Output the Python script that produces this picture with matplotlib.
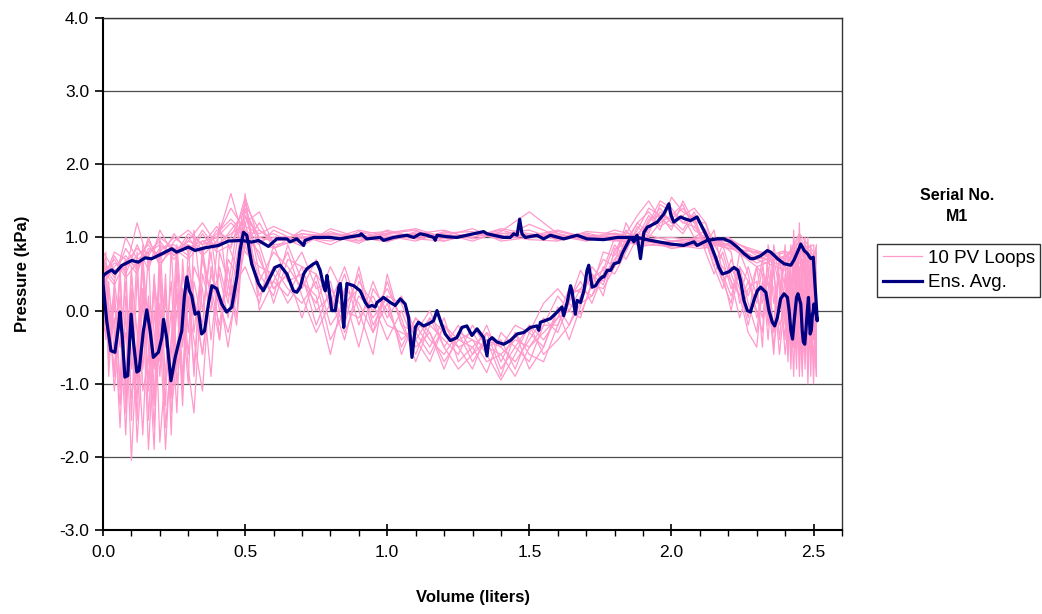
import matplotlib
matplotlib.use("Agg")
import matplotlib.pyplot as plt
from matplotlib.ticker import MultipleLocator, FormatStrFormatter

plt.rcParams['font.family'] = ['Liberation Sans', 'DejaVu Sans']
plt.rcParams['axes.unicode_minus'] = False

# shared volume grids for the 10 pink loops (filling branch, then emptying branch)
upper_x = [0.0, 0.04, 0.08, 0.12, 0.16, 0.2, 0.25, 0.3, 0.35, 0.4, 0.45, 0.5, 0.55, 0.6,
           0.7, 0.8, 0.9, 1.0, 1.1, 1.2, 1.3, 1.4, 1.5, 1.6, 1.7, 1.8, 1.9, 2.0, 2.1, 2.2,
           2.3, 2.4, 2.45, 2.5]
lower_x = [2.51, 2.5, 2.49, 2.48, 2.47, 2.46, 2.45, 2.44, 2.43, 2.42, 2.41, 2.4,
           2.38, 2.36, 2.34, 2.32, 2.3,
           2.27, 2.24, 2.21, 2.18, 2.15, 2.12,
           2.08, 2.04, 2.0, 1.96, 1.92, 1.88, 1.84, 1.8, 1.76, 1.72, 1.68, 1.64, 1.6,
           1.55, 1.5, 1.45, 1.4, 1.35, 1.3, 1.25, 1.2, 1.15, 1.1, 1.05, 1.0, 0.95, 0.9,
           0.85, 0.8, 0.75, 0.7, 0.65, 0.6, 0.55, 0.5,
           0.47, 0.44, 0.41, 0.38, 0.35, 0.32,
           0.3, 0.28, 0.26, 0.24, 0.22, 0.2, 0.18, 0.16, 0.14, 0.12, 0.1, 0.08, 0.06, 0.04, 0.02,
           0.01, 0.0]

loop1_up = [0.70, 0.45, 0.85, 0.60, 0.95, 0.70, 1.05, 0.80, 1.10, 0.85, 1.00, 1.45, 1.10, 0.95, 1.05, 0.98, 1.10, 1.02, 0.95, 1.08, 1.00, 1.12, 1.05, 0.98, 1.04, 0.96, 0.90, 0.88, 0.95, 0.85, 0.80, 0.70, 1.00, 0.75]
loop2_up = [0.30, 0.75, 0.50, 0.90, 0.55, 1.10, 0.75, 0.95, 0.85, 1.05, 1.25, 1.05, 0.90, 1.10, 0.92, 1.08, 0.96, 1.05, 1.10, 0.95, 1.05, 0.98, 1.18, 1.02, 0.95, 1.06, 0.98, 0.85, 0.92, 0.95, 0.70, 0.82, 0.65, 0.60]
loop3_up = [0.60, 0.40, 1.00, 0.70, 0.80, 0.95, 0.70, 1.00, 0.75, 0.95, 1.60, 0.90, 1.20, 0.85, 1.10, 1.02, 0.92, 1.10, 1.00, 1.05, 0.95, 1.08, 1.35, 1.05, 0.98, 1.02, 0.92, 0.95, 1.00, 0.90, 0.60, 0.75, 0.85, 0.50]
loop4_up = [0.45, 0.65, 0.55, 1.20, 0.65, 0.85, 0.90, 0.75, 1.05, 0.80, 0.90, 1.30, 1.00, 1.05, 0.88, 1.12, 1.00, 0.94, 1.08, 1.02, 1.12, 0.95, 1.00, 1.08, 1.00, 0.95, 1.02, 0.85, 0.90, 1.00, 0.75, 0.60, 0.95, 0.65]
loop5_up = [0.55, 0.35, 0.70, 0.50, 1.00, 0.60, 0.95, 1.10, 0.90, 1.15, 0.85, 1.55, 0.95, 0.85, 1.00, 0.95, 1.05, 1.08, 0.98, 0.95, 1.06, 1.03, 0.97, 0.95, 1.08, 1.05, 0.95, 0.92, 0.88, 0.95, 0.82, 0.70, 1.05, 0.80]
loop6_up = [0.80, 0.55, 0.65, 0.85, 0.70, 0.80, 1.00, 0.85, 0.95, 1.00, 1.40, 1.10, 0.95, 1.00, 1.02, 0.90, 1.08, 0.98, 1.05, 1.10, 0.98, 1.05, 1.10, 0.96, 1.02, 0.98, 0.88, 0.95, 0.98, 0.88, 0.65, 0.80, 0.70, 0.55]
loop7_up = [0.35, 0.60, 0.75, 0.55, 0.85, 0.75, 0.80, 0.95, 1.20, 0.90, 1.05, 1.20, 1.35, 0.90, 0.95, 1.05, 1.00, 1.06, 1.12, 1.00, 1.00, 1.10, 1.00, 1.05, 0.96, 1.10, 1.00, 0.90, 0.85, 0.92, 0.70, 0.55, 0.80, 0.90]
loop8_up = [0.65, 0.50, 0.60, 0.75, 0.90, 0.65, 0.85, 0.90, 0.80, 1.10, 0.95, 1.15, 1.05, 1.15, 0.98, 1.00, 0.95, 1.04, 0.98, 1.06, 1.08, 0.98, 1.05, 1.00, 1.06, 0.98, 0.95, 0.88, 1.00, 0.85, 0.80, 0.65, 0.75, 0.45]
loop9_up = [0.50, 0.70, 0.45, 0.65, 0.75, 1.00, 0.85, 0.70, 0.95, 0.85, 1.10, 1.35, 1.00, 0.95, 1.05, 1.02, 1.00, 0.95, 1.04, 1.00, 1.05, 1.00, 1.02, 1.10, 1.00, 1.00, 1.05, 0.95, 0.92, 0.98, 0.78, 0.72, 0.95, 0.70]
loop10_up = [0.40, 0.80, 0.70, 0.60, 0.80, 0.90, 0.75, 1.05, 0.90, 1.00, 1.20, 1.00, 1.10, 0.95, 1.00, 1.05, 1.03, 1.00, 1.06, 0.98, 1.04, 1.06, 1.00, 1.02, 1.02, 1.04, 0.98, 1.00, 0.95, 0.90, 0.72, 0.68, 0.85, 0.60]

loop1_low = [0.2, -0.8, 0.9, -0.5, 0.6, -0.9, 0.4, -0.3, 0.8, -0.6, 0.1, 0.5,
             -0.4, 0.6, -0.2, 0.7, 0.3,
             -0.2, 0.3, 0.6, 0.4, 0.8, 1.1,
             1.3, 1.2, 1.4, 1.5, 1.2, 1.05, 0.9, 0.7, 0.45, 0.2, 0.3, 0.0, -0.1,
             -0.3, -0.5, -0.4, -0.6, -0.7, -0.4, -0.5, -0.3, -0.1, -0.4, 0.1, 0.2, -0.1, 0.3, 0.1, -0.2, 0.5, 0.6, 0.2, 0.4, 0.3, 0.9,
             0.2, -0.3, 0.1, 0.5, -0.6, 0.1,
             0.4, -0.5, 0.8, -1.2, 0.2, -0.7, 0.5, -1.0, 0.3, -1.5, 0.6, -0.9, 0.2, -0.8, -0.2,
             0.5, 0.7]
loop2_low = [-0.4, 0.5, -0.9, 1.0, -0.2, 0.3, -0.7, 0.9, -0.1, 0.4, -0.5, 0.7,
             0.2, -0.5, 0.4, 0.1, 0.6,
             0.2, 0.5, 0.3, 0.7, 0.9, 1.2,
             1.4, 1.3, 1.2, 1.35, 1.1, 0.95, 1.0, 0.6, 0.3, 0.35, -0.05, 0.1, -0.3,
             -0.1, -0.4, -0.7, -0.5, -0.4, -0.6, -0.2, -0.5, 0.0, -0.3, 0.2, -0.1, 0.4, -0.2, 0.5, 0.0, 0.7, 0.3, 0.6, 0.8, 0.4, 1.2,
             0.6, 0.9, -0.4, 0.2, 0.7, -0.3,
             0.9, -1.1, 0.3, -0.6, -1.6, 0.5, -0.4, -1.9, 0.1, -0.6, -1.2, 0.4, -0.5, 0.1, -0.6,
             0.2, 0.4]
loop3_low = [0.8, -0.3, 0.2, -1.0, 0.5, 0.9, -0.6, 0.0, 1.1, -0.4, 0.3, -0.2,
             0.5, 0.1, 0.8, -0.3, 0.0,
             0.4, 0.1, 0.8, 0.9, 0.6, 1.0,
             1.1, 1.45, 1.3, 1.2, 1.0, 1.15, 0.8, 0.5, 0.6, 0.2, 0.1, -0.2, 0.05,
             -0.5, -0.3, -0.8, -0.4, -0.5, -0.2, -0.6, -0.4, -0.2, -0.7, -0.1, 0.3, 0.0, 0.2, -0.3, 0.4, 0.3, 0.8, 0.5, 0.3, 0.7, 1.3,
             -0.2, 0.4, 0.8, -0.9, 0.3, 0.6,
             -0.3, 0.7, -1.4, 0.0, -0.8, -1.8, 0.4, -1.1, 0.6, -0.4, -2.05, 0.0, -1.3, -0.3, 0.3,
             -0.4, 0.1]
loop4_low = [-0.2, 0.6, -0.6, 0.3, -0.8, 0.7, 0.1, -0.5, 0.4, 0.9, -0.7, 0.2,
             -0.6, 0.3, 0.5, -0.1, 0.2,
             0.6, 0.2, 0.5, 0.9, 1.0, 0.85,
             1.2, 1.5, 1.1, 1.3, 1.25, 0.9, 1.1, 0.8, 0.35, 0.5, 0.2, -0.2, -0.4,
             -0.6, -0.2, -0.5, -0.8, -0.3, -0.5, -0.7, -0.1, -0.5, -0.2, -0.4, 0.0, 0.3, -0.5, 0.2, 0.6, 0.1, 0.4, 0.9, 0.2, 0.5, 1.5,
             0.9, 0.1, 0.6, -0.4, 0.9, -0.8,
             0.2, -0.9, 0.6, -1.7, 0.3, -0.3, -1.2, 0.8, -0.5, -1.8, 0.2, -1.4, 0.5, -0.9, 0.0,
             0.6, 0.3]
loop5_low = [0.5, -1.0, 0.3, 0.8, -0.4, -0.1, 1.2, -0.8, 0.2, -0.3, 0.6, -0.1,
             0.8, -0.2, 0.1, 0.4, -0.3,
             0.1, 0.6, 0.2, 0.5, 1.1, 0.9,
             1.25, 1.35, 1.55, 1.1, 1.3, 1.0, 0.7, 0.9, 0.5, 0.1, 0.4, 0.15, -0.2,
             -0.7, -0.6, -0.3, -0.9, -0.4, -0.7, -0.3, -0.6, -0.4, -0.1, -0.5, 0.1, -0.3, 0.5, 0.0, -0.4, 0.4, 0.1, 0.3, 0.6, 0.2, 1.1,
             0.3, -0.5, 0.2, 1.0, -0.2, 0.4,
             -0.6, 0.3, -0.8, 0.9, -1.3, 0.1, -1.6, -0.2, 0.7, -1.0, 0.3, -1.7, -0.2, 0.4, -0.9,
             0.3, 0.6]
loop6_low = [-0.6, 0.4, 0.7, -0.3, 0.9, -0.5, -0.2, 0.6, -0.9, 0.2, 0.8, -0.4,
             0.3, 0.7, -0.4, 0.5, 0.6,
             -0.1, 0.4, 0.7, 0.3, 0.6, 0.95,
             1.15, 1.2, 1.35, 1.45, 1.05, 1.2, 0.95, 0.6, 0.7, 0.4, -0.1, 0.0, 0.2,
             -0.2, -0.7, -0.5, -0.3, -0.85, -0.5, -0.4, -0.7, -0.3, -0.5, 0.0, -0.4, 0.1, 0.4, -0.4, 0.2, 0.0, 0.6, 0.7, 0.1, 0.8, 1.0,
             0.5, 0.7, -0.2, 0.3, -0.6, 0.2,
             0.6, -0.2, -1.0, 0.4, -0.5, 1.0, -1.3, 0.2, -0.8, 0.5, -1.5, 0.7, -1.0, 0.3, -0.3,
             0.0, 0.8]
loop7_low = [0.3, -0.4, 0.1, 0.6, -0.6, 0.4, 0.9, -0.2, 0.3, -0.8, 0.4, 0.0,
             -0.2, 0.5, 0.9, -0.5, 0.4,
             0.3, -0.1, 0.4, 0.6, 0.7, 1.0,
             1.35, 1.1, 1.25, 1.3, 1.4, 1.1, 0.85, 1.0, 0.55, 0.45, 0.25, 0.3, -0.1,
             -0.4, -0.2, -0.6, -0.95, -0.6, -0.3, -0.4, -0.2, -0.6, -0.3, -0.2, 0.4, -0.3, 0.1, 0.3, -0.6, 0.2, 0.4, 0.1, 0.5, 0.6, 0.8,
             1.1, 0.3, 0.0, 0.6, -1.1, -0.4,
             0.1, 0.5, -0.6, -1.4, 0.5, -0.9, 0.0, -1.5, 0.9, -0.7, -0.2, -1.2, 0.6, -0.6, 0.4,
             -0.2, 0.2]
loop8_low = [-0.9, 0.7, -0.3, 0.2, 0.5, -0.7, 0.3, 0.8, -0.4, 0.1, -0.6, 0.9,
             0.1, -0.3, 0.6, 0.2, -0.1,
             0.5, 0.8, 0.1, 0.4, 0.7, 1.1,
             1.0, 1.3, 1.15, 1.25, 1.5, 1.3, 1.05, 0.75, 0.8, 0.3, 0.55, 0.1, 0.3,
             0.1, -0.3, -0.2, -0.5, -0.3, -0.8, -0.5, -0.2, -0.7, -0.4, -0.3, -0.2, 0.2, -0.1, 0.0, 0.3, -0.2, 0.5, 0.4, 0.9, 0.1, 0.6,
             0.4, 0.2, 1.2, 0.0, 0.5, -1.4,
             -0.8, 0.2, 0.0, -0.9, -0.3, 0.6, -1.9, -0.5, 0.3, -1.2, -0.6, 0.2, -1.6, -0.1, -0.4,
             0.8, 0.5]
loop9_low = [0.9, 0.0, -0.5, 0.4, 0.2, -0.8, 0.6, -0.6, 0.7, 0.3, -0.2, -0.6,
             0.4, 0.9, -0.1, 0.3, -0.5,
             -0.3, 0.2, 0.4, 0.8, 0.5, 0.8,
             1.3, 1.05, 1.2, 1.4, 1.2, 0.9, 1.2, 0.65, 0.4, 0.6, 0.05, -0.4, 0.0,
             -0.5, -0.8, -0.3, -0.7, -0.2, -0.6, -0.8, -0.5, -0.1, -0.6, -0.2, 0.5, -0.6, 0.0, 0.6, 0.1, -0.3, 0.2, 0.8, 0.4, 0.0, 1.6,
             -0.1, 0.6, -0.4, 0.8, 0.0, 1.1,
             -1.0, -0.1, 0.9, -0.4, -1.9, -0.2, 0.4, -0.7, -1.1, 0.8, -0.8, -0.3, -1.1, 0.2, -0.7,
             0.1, 0.0]
loop10_low = [0.0, 0.3, -0.2, -0.7, 1.0, 0.2, -0.9, 0.5, -0.5, 0.6, 0.0, 0.3,
              0.7, -0.6, 0.2, 0.6, 0.1,
              0.4, 0.6, 0.0, 0.5, 0.8, 1.2,
              1.2, 1.4, 1.25, 1.15, 1.35, 1.2, 0.9, 0.85, 0.2, 0.5, 0.3, 0.2, -0.2,
              -0.2, -0.5, -0.9, -0.6, -0.5, -0.4, -0.3, -0.8, -0.3, -0.1, -0.6, 0.2, -0.2, 0.6, -0.2, 0.2, 0.5, -0.1, 0.5, 0.3, 0.9, 1.4,
              0.7, -0.1, 0.5, 0.2, 0.8, -0.9,
              0.5, -1.3, 0.2, -0.4, -1.0, 0.6, -0.8, 0.1, -1.7, -0.3, 0.5, -1.0, 0.0, -1.1, 0.1,
              -0.3, -0.2]

loops_up = [loop1_up, loop2_up, loop3_up, loop4_up, loop5_up,
            loop6_up, loop7_up, loop8_up, loop9_up, loop10_up]
loops_low = [loop1_low, loop2_low, loop3_low, loop4_low, loop5_low,
             loop6_low, loop7_low, loop8_low, loop9_low, loop10_low]

# ensemble average, filling branch (left to right)
avg_up_x = [0.0, 0.019, 0.031, 0.042, 0.066, 0.101, 0.124, 0.148, 0.171, 0.207, 0.242, 0.259,
            0.300, 0.324, 0.359, 0.406, 0.441, 0.488, 0.523, 0.547, 0.582, 0.612,
            0.647, 0.658, 0.682, 0.706, 0.711, 0.741, 0.799, 0.835, 0.858, 0.905, 0.908,
            0.928, 0.975, 0.987, 1.022, 1.069, 1.093, 1.116, 1.14, 1.163, 1.169, 1.175,
            1.21, 1.245, 1.28, 1.304,
            1.327, 1.339, 1.351, 1.41, 1.433, 1.445, 1.457, 1.466, 1.474, 1.486, 1.527,
            1.55, 1.574, 1.621, 1.668, 1.703, 1.762, 1.809, 1.844, 1.879, 1.903,
            1.926, 1.996, 2.043, 2.079, 2.09, 2.126, 2.161, 2.184, 2.208, 2.231, 2.255,
            2.278, 2.29, 2.314, 2.337, 2.349, 2.373, 2.396, 2.42, 2.431, 2.449, 2.455,
            2.467, 2.478, 2.49, 2.499, 2.504, 2.508]
avg_up_y = [0.48, 0.53, 0.557, 0.511, 0.616, 0.685, 0.662, 0.721, 0.708, 0.776, 0.845, 0.799,
            0.868, 0.822, 0.858, 0.89, 0.95, 0.959, 0.936, 0.959, 0.877, 0.982,
            0.98, 0.94, 0.98, 0.89, 0.96, 1.0, 1.0, 0.98, 1.0, 1.03, 1.05,
            0.98, 1.0, 0.96, 1.0, 1.03, 1.0, 1.05, 1.03, 1.0, 0.96, 1.03,
            1.01, 1.0, 1.03, 1.05,
            1.07, 1.08, 1.05, 1.0, 1.0, 1.05, 1.03, 1.25, 1.05, 1.0, 1.03,
            0.98, 1.03, 0.98, 1.03, 0.98, 0.97, 1.0, 1.0, 1.0, 0.98,
            0.96, 0.91, 0.89, 0.94, 0.89, 0.96, 0.98, 0.98, 0.94, 0.87, 0.78,
            0.71, 0.71, 0.75, 0.82, 0.80, 0.71, 0.64, 0.62, 0.69, 0.85, 0.91,
            0.82, 0.78, 0.71, 0.73, 0.41, 0.18]

# ensemble average, emptying branch (right to left)
avg_low_x = [2.513, 2.507, 2.501, 2.499, 2.496, 2.492, 2.488, 2.485, 2.482, 2.478, 2.473,
             2.469, 2.464, 2.46, 2.455, 2.445, 2.44, 2.433, 2.426, 2.42, 2.414, 2.408,
             2.396, 2.384, 2.373, 2.363, 2.355, 2.343, 2.332, 2.314, 2.302, 2.29, 2.278,
             2.267, 2.255, 2.243, 2.234, 2.22, 2.202, 2.179, 2.167, 2.155, 2.137, 2.12,
             2.102, 2.09, 2.067, 2.043, 2.032, 2.008, 1.997, 1.991, 1.973, 1.95, 1.926,
             1.915, 1.903, 1.897, 1.891, 1.879, 1.868, 1.856, 1.844, 1.827, 1.815, 1.798,
             1.786, 1.774, 1.762, 1.756, 1.744, 1.733, 1.721, 1.709, 1.703, 1.692, 1.68,
             1.668, 1.662, 1.65, 1.645, 1.633, 1.621, 1.615, 1.598, 1.574, 1.539, 1.533,
             1.527, 1.504, 1.48, 1.457, 1.433, 1.41, 1.386, 1.369, 1.357, 1.351, 1.339, 1.316,
             1.298, 1.28, 1.263, 1.245, 1.222, 1.204, 1.187, 1.175, 1.163, 1.146, 1.128,
             1.11, 1.099, 1.087, 1.075, 1.063, 1.046, 1.028, 1.011, 0.987, 0.964, 0.958,
             0.946, 0.934, 0.923, 0.905, 0.882, 0.858, 0.852, 0.847, 0.841, 0.835, 0.829,
             0.817, 0.805, 0.794, 0.788, 0.782, 0.776, 0.764, 0.752, 0.741, 0.717, 0.706,
             0.694, 0.682, 0.67, 0.647,
             0.623, 0.605, 0.582, 0.564, 0.547, 0.523, 0.506, 0.494, 0.482, 0.471, 0.453,
             0.435, 0.418, 0.4, 0.383, 0.371, 0.357, 0.347, 0.336, 0.324, 0.312, 0.304,
             0.295, 0.286, 0.277, 0.265, 0.254, 0.239, 0.224, 0.213, 0.207, 0.195, 0.177,
             0.166, 0.154, 0.142, 0.127, 0.119, 0.108, 0.099, 0.087, 0.077, 0.068, 0.06,
             0.054, 0.042, 0.028, 0.013, 0.0, 0.0]
avg_low_y = [-0.14, -0.02, 0.09, 0.0, -0.05, -0.27, -0.32, -0.09, 0.18, 0.0, -0.27,
             -0.46, -0.43, -0.27, 0.09, 0.23, 0.18, -0.09, -0.39, -0.27, 0.0, 0.18,
             0.23, 0.16, -0.09, -0.21, -0.16, 0.0, 0.25, 0.32, 0.27, 0.14, -0.02,
             0.0, 0.14, 0.41, 0.55, 0.59, 0.53, 0.50, 0.59, 0.73, 0.91, 1.05,
             1.19, 1.28, 1.23, 1.26, 1.28, 1.21, 1.32, 1.46, 1.32, 1.21, 1.16,
             1.14, 1.07, 0.89, 0.71, 1.03, 0.94, 1.0, 0.91, 0.78, 0.66, 0.64,
             0.55, 0.55, 0.46, 0.46, 0.41, 0.34, 0.32, 0.62, 0.55, 0.27, 0.11,
             0.14, -0.05, 0.27, 0.34, 0.11, -0.07, 0.05, -0.02, -0.11, -0.16, -0.27,
             -0.21, -0.23, -0.30, -0.32, -0.41, -0.46, -0.43, -0.37, -0.41, -0.62, -0.37, -0.25,
             -0.34, -0.21, -0.23, -0.37, -0.41, -0.32, -0.14, 0.0, -0.14, -0.18, -0.21,
             -0.16, -0.23, -0.64, -0.09, 0.09, 0.16, 0.07, 0.11, 0.18, 0.11, 0.05,
             0.07, 0.05, 0.11, 0.27, 0.34, 0.37, 0.07, -0.23, 0.11, 0.37, 0.32,
             0.0, 0.0, 0.32, 0.48, 0.27, 0.34, 0.55, 0.66, 0.64, 0.57, 0.50,
             0.32, 0.25, 0.27, 0.50,
             0.62, 0.59, 0.41, 0.27, 0.37, 0.64, 1.03, 1.07, 0.82, 0.46, 0.046,
             -0.02, 0.09, 0.30, 0.34, 0.09, -0.28, -0.32, -0.02, -0.05, 0.205, 0.27,
             0.46, 0.18, -0.28, -0.46, -0.64, -0.96, -0.37, -0.12, -0.37, -0.57, -0.64,
             -0.28, 0.01, -0.28, -0.82, -0.84, -0.46, -0.05, -0.89, -0.91, -0.37, -0.02,
             -0.23, -0.57, -0.55, -0.14, 0.37, 0.48]

yticks = [-3.0, -2.0, -1.0, 0.0, 1.0, 2.0, 3.0, 4.0]
xticks = [0.0, 0.5, 1.0, 1.5, 2.0, 2.5]

fig = plt.figure(figsize=(10.42, 6.14), dpi=100)
ax = fig.add_axes([103 / 1042, 84 / 614, 739 / 1042, 512 / 614])

for i in range(len(loops_up)):
    xs = upper_x + lower_x
    ys = loops_up[i] + loops_low[i]
    if i == 0:
        ax.plot(xs, ys, color="#FF99CC", lw=0.9, label="10 PV Loops", zorder=2)
    else:
        ax.plot(xs, ys, color="#FF99CC", lw=0.9, zorder=2)

ax.plot(avg_up_x + avg_low_x, avg_up_y + avg_low_y, color="#000080", lw=2.3,
        label="Ens. Avg.", zorder=3)

ax.set_xlim(0, 2.6)
ax.set_ylim(-3, 4)
ax.set_xticks(xticks)
ax.set_yticks(yticks)
ax.xaxis.set_minor_locator(MultipleLocator(0.1))
ax.xaxis.set_major_formatter(FormatStrFormatter("%.1f"))
ax.yaxis.set_major_formatter(FormatStrFormatter("%.1f"))
ax.tick_params(axis="x", which="major", direction="inout", length=9, width=1.2, labelsize=12.5, pad=6)
ax.tick_params(axis="x", which="minor", direction="out", length=4, width=1.0)
ax.tick_params(axis="y", which="major", direction="out", length=6, width=1.2, labelsize=12.5, pad=4)
ax.grid(axis="y", color="#4d4d4d", lw=0.9, zorder=1)
ax.set_axisbelow(True)

for side in ["left", "bottom"]:
    ax.spines[side].set_linewidth(1.5)
for side in ["top", "right"]:
    ax.spines[side].set_linewidth(1.0)
    ax.spines[side].set_color("#333333")

ax.set_xlabel("Volume (liters)", fontsize=12, fontweight="bold", labelpad=22)
ax.set_ylabel("Pressure (kPa)", fontsize=12, fontweight="bold", labelpad=21)

fig.text(957 / 1042, 1 - 206 / 614, "Serial No.\nM1", ha="center", va="center",
         fontsize=11.5, fontweight="bold", linespacing=1.5)
leg = fig.legend(loc="upper left", bbox_to_anchor=(877 / 1042, 1 - 244 / 614),
                 fontsize=13.5, frameon=True, fancybox=False, borderpad=0.3,
                 handlelength=2.1, handletextpad=0.3, labelspacing=0.4, borderaxespad=0)
leg.get_frame().set_edgecolor("black")
leg.get_frame().set_linewidth(1.0)

fig.savefig("out.png", dpi=100)
